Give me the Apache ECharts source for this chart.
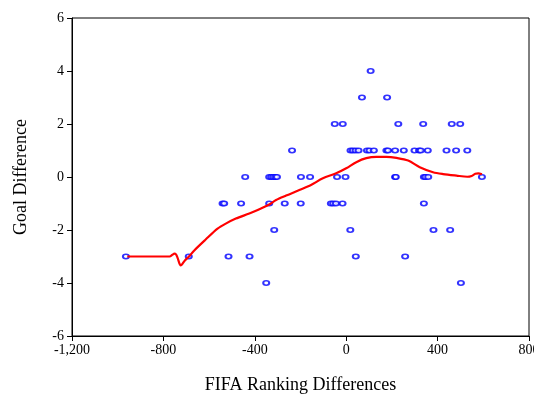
<!DOCTYPE html>
<html><head><meta charset="utf-8">
<script src="https://cdn.jsdelivr.net/npm/echarts@6/dist/echarts.min.js"></script>
<style>html,body{margin:0;padding:0;background:#fff}#c{width:534px;height:397px}</style>
</head><body><div id="c"></div>
<script>
// Scatter: FIFA ranking difference (x) vs goal difference (y)
const scatterX = [107, 69, 179, -50, -15, 228, 337, 462, 499,
  -237, 19, 29, 41, 54, 91, 102, 121, 176, 183, 214, 252, 299, 319, 326, 357, 439, 481, 530,
  -442, -337, -328, -319, -310, -303, -198, -158, -40, -3, 214, 217, 340, 347, 359, 594,
  -541, -534, -460, -337, -269, -199, -67, -57, -45, -16, 340,
  -315, 18, 382, 455,
  -964, -689, -515, -423, 42, 258,
  -350, 502];
const scatterY = [4, 3, 3, 2, 2, 2, 2, 2, 2,
  1, 1, 1, 1, 1, 1, 1, 1, 1, 1, 1, 1, 1, 1, 1, 1, 1, 1, 1,
  0, 0, 0, 0, 0, 0, 0, 0, 0, 0, 0, 0, 0, 0, 0, 0,
  -1, -1, -1, -1, -1, -1, -1, -1, -1, -1, -1,
  -2, -2, -2, -2,
  -3, -3, -3, -3, -3, -3,
  -4, -4];
// Smoothed fit curve
const fitX = [-958, -773, -760, -752, -745, -738, -724, -706, -688, -666, -615, -563, -527, -483, -424, -380, -337, -307, -263, -205, -154, -102, -44, 0, 44, 88, 132, 176, 220, 271, 322, 380, 424, 483, 530, 549, 565, 578, 594];
const fitY = [-3.0, -3.0, -2.93, -2.89, -2.92, -3.05, -3.34, -3.15, -3.0, -2.78, -2.36, -1.95, -1.76, -1.57, -1.38, -1.22, -1.04, -0.87, -0.70, -0.49, -0.30, -0.05, 0.14, 0.33, 0.56, 0.71, 0.76, 0.76, 0.72, 0.62, 0.37, 0.18, 0.11, 0.05, 0.01, 0.04, 0.12, 0.14, 0.10];
const xTicks = [-1200, -800, -400, 0, 400, 800];
const yTicks = [-6, -4, -2, 0, 2, 4, 6];

const font = 'Liberation Serif, Times New Roman, serif';
const chart = echarts.init(document.getElementById('c'));
chart.setOption({
  animation: false,
  grid: {left: 72, right: 5, top: 18, bottom: 61, show: true, borderColor: '#000', borderWidth: 1,
    containLabel: false, outerBoundsMode: 'none'},
  xAxis: {
    type: 'value', min: xTicks[0], max: xTicks[xTicks.length - 1], interval: 400,
    name: 'FIFA Ranking Differences', nameLocation: 'middle', nameGap: 40,
    nameTextStyle: {fontFamily: font, fontSize: 18, color: '#000'},
    axisLine: {show: true, onZero: false, lineStyle: {color: '#000', width: 1}},
    axisTick: {show: true, length: 5, inside: false, lineStyle: {color: '#000'}},
    axisLabel: {fontFamily: font, fontSize: 14, color: '#000', margin: 7,
      formatter: v => v.toLocaleString('en-US')},
    splitLine: {show: false}
  },
  yAxis: {
    type: 'value', min: -6, max: 6, interval: 2,
    name: 'Goal Difference', nameLocation: 'middle', nameGap: 42,
    nameTextStyle: {fontFamily: font, fontSize: 18, color: '#000'},
    axisLine: {show: true, onZero: false, lineStyle: {color: '#000', width: 1}},
    axisTick: {show: true, length: 5, inside: false, lineStyle: {color: '#000'}},
    axisLabel: {fontFamily: font, fontSize: 14, color: '#000', margin: 8},
    splitLine: {show: false}
  },
  series: [
    {
      type: 'scatter',
      data: scatterX.map((x, i) => [x, scatterY[i]]),
      symbol: 'circle', symbolSize: [6, 4.5],
      itemStyle: {color: '#fff', borderColor: '#0000ff', borderWidth: 1.8},
      z: 3
    },
    {
      type: 'line',
      data: fitX.map((x, i) => [x, fitY[i]]),
      showSymbol: false, smooth: 0.3,
      lineStyle: {color: '#ff0000', width: 2.2},
      z: 4
    }
  ]
});
</script></body></html>
